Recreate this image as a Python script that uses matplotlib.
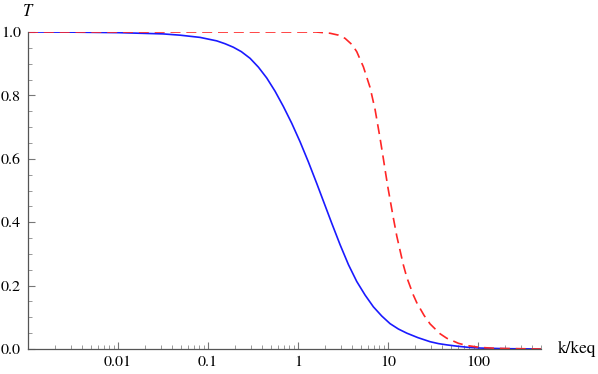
import numpy as np
import matplotlib
matplotlib.use("Agg")
import matplotlib.pyplot as plt
from matplotlib.ticker import LogLocator, FixedLocator, NullFormatter, MultipleLocator

# Values: log10(k/keq) and T
logk_blue = [-3.0, -2.5, -2.0, -1.5, -1.311, -1.089, -0.903, -0.811, -0.719, -0.63, -0.533,
             -0.44, -0.348, -0.255, -0.163, -0.07, 0.022, 0.115, 0.208, 0.281, 0.374, 0.467,
             0.56, 0.652, 0.745, 0.837, 0.93, 1.022, 1.115, 1.208, 1.33, 1.467, 1.56, 1.652,
             1.763, 1.9, 2.022, 2.3, 2.7]
T_blue = [1.000, 0.9995, 0.998, 0.994, 0.990, 0.983, 0.972, 0.963, 0.952, 0.938, 0.917,
          0.889, 0.855, 0.813, 0.765, 0.712, 0.654, 0.590, 0.522, 0.467, 0.397, 0.329,
          0.266, 0.213, 0.170, 0.133, 0.104, 0.080, 0.063, 0.050, 0.036, 0.023, 0.017, 0.013,
          0.009, 0.005, 0.003, 0.001, 0.000]

logk_red = [-3.0, -2.0, -1.0, 0.0, 0.2, 0.356, 0.45, 0.522, 0.6, 0.652, 0.726, 0.80, 0.856,
            0.911, 0.948, 0.967, 1.00, 1.059, 1.097, 1.17, 1.208, 1.281, 1.319, 1.40, 1.467,
            1.578, 1.652, 1.781, 1.874, 2.022, 2.2, 2.7]
T_red = [1.000, 1.000, 1.000, 1.000, 1.000, 0.996, 0.990, 0.980, 0.960, 0.938, 0.890, 0.825, 0.755,
         0.665, 0.600, 0.565, 0.507, 0.413, 0.356, 0.265, 0.226, 0.170, 0.146, 0.106, 0.079,
         0.048, 0.034, 0.018, 0.011, 0.005, 0.002, 0.000]

x_major = [0.01, 0.1, 1, 10, 100]
x_major_labels = ["0.01", "0.1", "1", "10", "100"]
y_major = [0.0, 0.2, 0.4, 0.6, 0.8, 1.0]
y_major_labels = ["0.0", "0.2", "0.4", "0.6", "0.8", "1.0"]

plt.rcParams['font.family'] = ['STIXGeneral', 'DejaVu Serif']
plt.rcParams['font.size'] = 11.5

fig = plt.figure(figsize=(5.98, 3.74), dpi=100)
ax = fig.add_axes([28/598, 1-349/374, (541-28)/598, (349-32)/374])

k_blue = 10.0 ** np.array(logk_blue)
k_red = 10.0 ** np.array(logk_red)
ax.plot(k_blue, T_blue, color='#1a1aff', lw=1.2, solid_joinstyle='round')
ax.plot(k_red, T_red, color='#ff2626', lw=1.2, dashes=(6, 3.5))

ax.set_xscale('log')
ax.set_xlim(0.001, 500)
ax.set_ylim(0, 1.0)

for s in ['top', 'right']:
    ax.spines[s].set_visible(False)
for s in ['bottom', 'left']:
    ax.spines[s].set_color('#555555')
    ax.spines[s].set_linewidth(0.9)

ax.xaxis.set_major_locator(FixedLocator(x_major))
ax.set_xticklabels(x_major_labels)
ax.xaxis.set_minor_locator(LogLocator(base=10, subs=np.arange(2, 10), numticks=20))
ax.xaxis.set_minor_formatter(NullFormatter())
ax.set_yticks(y_major)
ax.set_yticklabels(y_major_labels)
ax.yaxis.set_minor_locator(MultipleLocator(0.05))

ax.tick_params(which='major', direction='in', length=5, width=0.8, color='#777777')
ax.tick_params(which='minor', direction='in', length=2.8, width=0.6, color='#888888')
ax.tick_params(axis='x', which='major', pad=5)
ax.tick_params(axis='y', which='major', pad=5)

fig.text(27/598, 1-12/374, 'T', style='italic', ha='center', va='center', fontsize=12)
fig.text(577/598, 1-349/374, 'k/keq', ha='center', va='center', fontsize=12.5)

fig.savefig('out.png', dpi=100)
